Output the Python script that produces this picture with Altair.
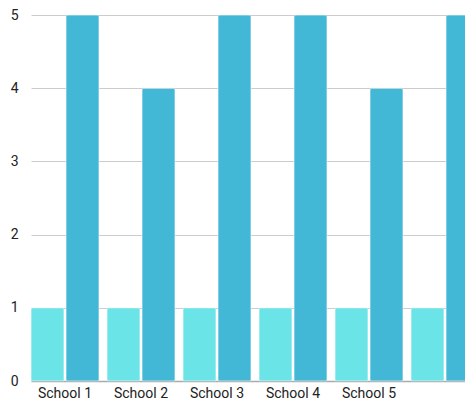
import altair as alt
import pandas as pd

schools = ["School 1", "School 2", "School 3", "School 4", "School 5", "School 6"]
series_a = [1, 1, 1, 1, 1, 1]
series_b = [5, 4, 5, 5, 4, 5]
series_names = ["A", "B"]
colors = ["#6BE4E8", "#42B8D6"]

rows = []
for s, a, b in zip(schools, series_a, series_b):
    rows.append({"school": s, "series": series_names[0], "value": a})
    rows.append({"school": s, "series": series_names[1], "value": b})
df = pd.DataFrame(rows)

chart = alt.Chart(df).mark_bar(
    cornerRadiusTopLeft=2, cornerRadiusTopRight=2,
    stroke="white", strokeWidth=1, strokeOpacity=0.35
).encode(
    x=alt.X("school:N", sort=schools, title=None,
            scale=alt.Scale(paddingInner=8 / 76, paddingOuter=0, range=[0, 448]),
            axis=alt.Axis(labelAngle=0, ticks=False, domain=True, domainColor="#aaaaaa",
                          domainWidth=1.5, labelFont="Roboto", labelFontSize=14,
                          labelColor="#222222", labelPadding=5,
                          labelExpr="datum.label == 'School 6' ? '' : datum.label")),
    xOffset=alt.XOffset("series:N", scale=alt.Scale(paddingInner=2 / 35, paddingOuter=0)),
    y=alt.Y("value:Q", title=None,
            scale=alt.Scale(domain=[0, 5], nice=False),
            axis=alt.Axis(values=[0, 1, 2, 3, 4, 5], ticks=False, domain=False,
                          gridColor="#cccccc", labelFont="Roboto", labelFontSize=14,
                          labelColor="#222222", labelPadding=13)),
    color=alt.Color("series:N", scale=alt.Scale(domain=series_names, range=colors), legend=None),
).properties(
    width=434, height=366,
    autosize=alt.AutoSizeParams(type="none"),
    padding={"left": 23, "top": 7, "right": 0, "bottom": 20},
).configure_view(stroke=None)

chart.save("out.html", embed_options={"renderer": "svg", "actions": False})
